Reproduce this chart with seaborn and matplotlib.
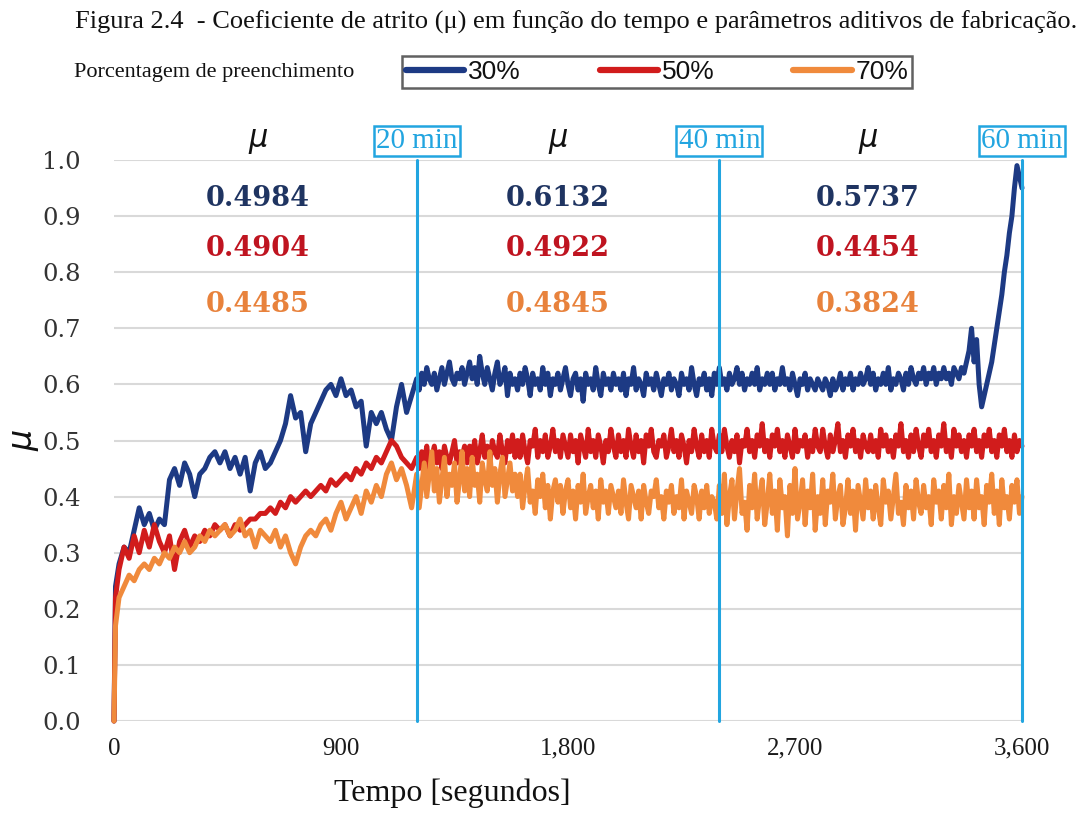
import numpy as np
import pandas as pd
import matplotlib
matplotlib.use("Agg")
import matplotlib.pyplot as plt
from matplotlib.lines import Line2D
import seaborn as sns

# ---- data -------------------------------------------------------------
# sampling instants [s]: 0, 6, every 20 s up to 1180 s, every 10 s afterwards
tempo = [0, 6] + list(range(20, 1200, 20)) + list(range(1200, 3601, 10))

mu_30 = [0.00, 0.24,
         0.28, 0.31, 0.30, 0.34, 0.38, 0.35, 0.37, 0.34, 0.36, 0.35,
         0.43, 0.45, 0.42, 0.46, 0.44, 0.40, 0.44, 0.45, 0.47, 0.48,
         0.46, 0.48, 0.45, 0.47, 0.44, 0.47, 0.41, 0.46, 0.48, 0.45,
         0.46, 0.48, 0.50, 0.53, 0.58, 0.54, 0.55, 0.48, 0.53, 0.55,
         0.57, 0.59, 0.60, 0.58, 0.61, 0.58, 0.59, 0.56, 0.57, 0.49,
         0.55, 0.53, 0.55, 0.52, 0.50, 0.56, 0.60, 0.55, 0.58,
         # from 1200 s, every 10 s
         0.61, 0.59, 0.62, 0.60, 0.63, 0.61, 0.60, 0.62, 0.59, 0.61,
         0.63, 0.60, 0.62, 0.64, 0.61, 0.60, 0.62, 0.61, 0.63, 0.60,
         0.62, 0.64, 0.61, 0.63, 0.60, 0.65, 0.62, 0.60, 0.63, 0.61,
         0.59, 0.62, 0.64, 0.60, 0.61, 0.63, 0.58, 0.62, 0.60, 0.61,
         0.59, 0.62, 0.60, 0.63, 0.61, 0.58, 0.62, 0.60, 0.61, 0.59,
         0.63, 0.60, 0.62, 0.58, 0.61, 0.60, 0.62, 0.59, 0.61, 0.63,
         0.60, 0.58, 0.61, 0.62, 0.59, 0.61, 0.57, 0.62, 0.60, 0.61,
         0.59, 0.63, 0.60, 0.58, 0.62, 0.60, 0.61, 0.59, 0.62, 0.60,
         0.61, 0.59, 0.62, 0.58, 0.61, 0.60, 0.63, 0.59, 0.61, 0.60,
         0.58, 0.62, 0.60, 0.61, 0.59, 0.62, 0.60, 0.58, 0.61, 0.60,
         0.62, 0.59, 0.61, 0.60, 0.58, 0.62, 0.60, 0.61, 0.59, 0.63,
         0.60, 0.58, 0.61, 0.60, 0.62, 0.59, 0.61, 0.58, 0.62, 0.60,
         0.63, 0.60, 0.61, 0.59, 0.62, 0.60, 0.61, 0.63, 0.60, 0.62,
         0.59, 0.61, 0.60, 0.62, 0.60, 0.63, 0.59, 0.61, 0.60, 0.62,
         0.60, 0.62, 0.59, 0.61, 0.60, 0.63, 0.60, 0.61, 0.59, 0.62,
         0.60, 0.58, 0.61, 0.60, 0.62, 0.59, 0.61, 0.60, 0.59, 0.61,
         0.60, 0.59, 0.61, 0.60, 0.58, 0.61, 0.59, 0.60, 0.62, 0.59,
         0.61, 0.60, 0.62, 0.59, 0.61, 0.60, 0.62, 0.60, 0.61, 0.63,
         0.60, 0.62, 0.59, 0.61, 0.60, 0.62, 0.60, 0.63, 0.59, 0.61,
         0.60, 0.62, 0.61, 0.59, 0.62, 0.60, 0.63, 0.61, 0.60, 0.62,
         0.61, 0.63, 0.60, 0.62, 0.61, 0.63, 0.60, 0.62, 0.61, 0.63,
         0.61, 0.62, 0.60, 0.63, 0.62, 0.61, 0.63, 0.62, 0.64, 0.66,
         0.70, 0.64, 0.68, 0.60, 0.56, 0.58, 0.60, 0.62, 0.64, 0.67,
         0.70, 0.73, 0.76, 0.80, 0.83, 0.87, 0.90, 0.95, 0.99, 0.97,
         0.95]

mu_50 = [0.00, 0.22,
         0.27, 0.31, 0.29, 0.33, 0.30, 0.34, 0.31, 0.35, 0.32, 0.30,
         0.33, 0.27, 0.32, 0.34, 0.31, 0.33, 0.32, 0.34, 0.33, 0.35,
         0.34, 0.35, 0.33, 0.35, 0.34, 0.35, 0.36, 0.36, 0.37, 0.37,
         0.38, 0.37, 0.39, 0.38, 0.40, 0.39, 0.40, 0.41, 0.40, 0.41,
         0.42, 0.41, 0.43, 0.42, 0.43, 0.44, 0.43, 0.45, 0.44, 0.46,
         0.45, 0.47, 0.46, 0.48, 0.50, 0.49, 0.47, 0.46, 0.45,
         # from 1200 s, every 10 s
         0.47, 0.45, 0.48, 0.46, 0.49, 0.45, 0.47, 0.49, 0.46, 0.48,
         0.45, 0.49, 0.47, 0.46, 0.48, 0.50, 0.46, 0.48, 0.47, 0.49,
         0.46, 0.49, 0.47, 0.50, 0.46, 0.48, 0.51, 0.47, 0.49, 0.46,
         0.50, 0.48, 0.47, 0.51, 0.48, 0.46, 0.50, 0.48, 0.51, 0.47,
         0.50, 0.47, 0.51, 0.48, 0.46, 0.50, 0.49, 0.52, 0.47, 0.50,
         0.48, 0.51, 0.47, 0.49, 0.52, 0.48, 0.50, 0.47, 0.51, 0.49,
         0.47, 0.51, 0.48, 0.50, 0.46, 0.51, 0.49, 0.47, 0.52, 0.48,
         0.50, 0.47, 0.51, 0.49, 0.46, 0.50, 0.48, 0.52, 0.49, 0.47,
         0.51, 0.48, 0.50, 0.47, 0.52, 0.49, 0.47, 0.51, 0.48, 0.50,
         0.46, 0.51, 0.49, 0.52, 0.48, 0.47, 0.50, 0.49, 0.51, 0.47,
         0.49, 0.52, 0.48, 0.50, 0.47, 0.51, 0.49, 0.46, 0.50, 0.48,
         0.52, 0.49, 0.47, 0.51, 0.48, 0.50, 0.47, 0.52, 0.49, 0.48,
         0.51, 0.48, 0.52, 0.49, 0.47, 0.50, 0.48, 0.51, 0.46, 0.50,
         0.49, 0.52, 0.48, 0.50, 0.47, 0.51, 0.49, 0.53, 0.48, 0.50,
         0.47, 0.51, 0.49, 0.52, 0.48, 0.50, 0.47, 0.51, 0.49, 0.47,
         0.52, 0.48, 0.50, 0.49, 0.51, 0.47, 0.50, 0.48, 0.52, 0.49,
         0.48, 0.52, 0.49, 0.47, 0.51, 0.48, 0.50, 0.53, 0.48, 0.50,
         0.47, 0.51, 0.49, 0.52, 0.48, 0.50, 0.47, 0.51, 0.49, 0.48,
         0.51, 0.48, 0.50, 0.47, 0.52, 0.49, 0.51, 0.48, 0.50, 0.47,
         0.51, 0.49, 0.53, 0.48, 0.50, 0.47, 0.51, 0.48, 0.52, 0.49,
         0.47, 0.51, 0.49, 0.52, 0.48, 0.50, 0.47, 0.51, 0.49, 0.53,
         0.48, 0.50, 0.47, 0.52, 0.49, 0.51, 0.48, 0.50, 0.47, 0.51,
         0.49, 0.52, 0.48, 0.50, 0.47, 0.51, 0.49, 0.52, 0.48, 0.50,
         0.47, 0.51, 0.49, 0.52, 0.48, 0.50, 0.47, 0.51, 0.48, 0.50,
         0.49]

mu_70 = [0.00, 0.17,
         0.22, 0.24, 0.26, 0.25, 0.27, 0.28, 0.27, 0.29, 0.28, 0.30,
         0.29, 0.31, 0.30, 0.32, 0.30, 0.31, 0.33, 0.32, 0.34, 0.33,
         0.34, 0.35, 0.33, 0.34, 0.36, 0.33, 0.34, 0.31, 0.34, 0.33,
         0.32, 0.34, 0.31, 0.33, 0.30, 0.28, 0.31, 0.33, 0.34, 0.33,
         0.35, 0.36, 0.34, 0.37, 0.39, 0.36, 0.38, 0.40, 0.37, 0.41,
         0.39, 0.42, 0.40, 0.44, 0.46, 0.43, 0.45, 0.42, 0.38,
         # from 1200 s, every 10 s
         0.44, 0.38, 0.42, 0.46, 0.40, 0.44, 0.48, 0.41, 0.45, 0.39,
         0.43, 0.47, 0.40, 0.44, 0.42, 0.46, 0.39, 0.43, 0.48, 0.41,
         0.45, 0.40, 0.47, 0.42, 0.44, 0.39, 0.46, 0.43, 0.41, 0.48,
         0.42, 0.45, 0.39, 0.44, 0.47, 0.40, 0.43, 0.46, 0.41, 0.44,
         0.40, 0.44, 0.38, 0.42, 0.45, 0.39, 0.41, 0.37, 0.43, 0.40,
         0.44, 0.38, 0.42, 0.36, 0.41, 0.43, 0.39, 0.42, 0.37, 0.41,
         0.43, 0.38, 0.41, 0.36, 0.42, 0.39, 0.44, 0.37, 0.40, 0.42,
         0.38, 0.41, 0.36, 0.43, 0.39, 0.41, 0.37, 0.42, 0.40, 0.38,
         0.41, 0.37, 0.43, 0.39, 0.36, 0.42, 0.40, 0.38, 0.41, 0.36,
         0.42, 0.39, 0.37, 0.41, 0.40, 0.43, 0.38, 0.40, 0.36, 0.41,
         0.39, 0.42, 0.37, 0.40, 0.38, 0.43, 0.36, 0.41, 0.39, 0.37,
         0.42, 0.40, 0.36, 0.41, 0.38, 0.42, 0.37, 0.40, 0.39, 0.36,
         0.42, 0.37, 0.44, 0.35, 0.40, 0.43, 0.36, 0.41, 0.45, 0.37,
         0.39, 0.34, 0.42, 0.38, 0.44, 0.36, 0.40, 0.43, 0.35, 0.39,
         0.44, 0.37, 0.41, 0.34, 0.43, 0.38, 0.40, 0.33, 0.42, 0.37,
         0.45, 0.36, 0.39, 0.43, 0.35, 0.41, 0.38, 0.44, 0.34, 0.40,
         0.37, 0.43, 0.35, 0.41, 0.39, 0.44, 0.36, 0.40, 0.42, 0.35,
         0.38, 0.43, 0.37, 0.41, 0.34, 0.42, 0.39, 0.36, 0.43, 0.38,
         0.41, 0.36, 0.42, 0.38, 0.35, 0.43, 0.39, 0.41, 0.36, 0.40,
         0.44, 0.37, 0.39, 0.35, 0.42, 0.38, 0.41, 0.36, 0.43, 0.39,
         0.37, 0.42, 0.38, 0.40, 0.35, 0.43, 0.39, 0.41, 0.36, 0.42,
         0.38, 0.44, 0.35, 0.40, 0.37, 0.42, 0.39, 0.36, 0.43, 0.38,
         0.41, 0.36, 0.43, 0.38, 0.40, 0.35, 0.42, 0.39, 0.44, 0.37,
         0.41, 0.35, 0.43, 0.38, 0.40, 0.36, 0.42, 0.39, 0.43, 0.37,
         0.40]

series_labels = ["30%", "50%", "70%"]

# mean friction coefficient per interval (0-20, 20-40, 40-60 min)
mean_mu_30 = [0.4984, 0.6132, 0.5737]
mean_mu_50 = [0.4904, 0.4922, 0.4454]
mean_mu_70 = [0.4485, 0.4845, 0.3824]

marker_minutes = [20, 40, 60]

x_ticks = [0, 900, 1800, 2700, 3600]
x_ticklabels = ["0", "900", "1,800", "2,700", "3,600"]
y_ticks = [0.0, 0.1, 0.2, 0.3, 0.4, 0.5, 0.6, 0.7, 0.8, 0.9, 1.0]

# ---- styling ----------------------------------------------------------
line_colors = ["#1d3a84", "#d11c1c", "#f08a3c"]
text_colors = ["#1f3461", "#bf1420", "#e8823c"]
cyan = "#22a5e0"

sns.set_theme(style="white")
plt.rcParams["font.family"] = ["DejaVu Sans"]

W, H = 1085, 814
fig = plt.figure(figsize=(W / 100, H / 100), dpi=100)
ax = fig.add_axes([114 / W, (H - 721) / H, (1022 - 114) / W, (721 - 160) / H])

n = len(tempo)
df = pd.DataFrame({
    "tempo": tempo * 3,
    "mu": mu_30 + mu_50 + mu_70,
    "preenchimento": [series_labels[0]] * n + [series_labels[1]] * n
    + [series_labels[2]] * n,
})

sns.lineplot(data=df, x="tempo", y="mu", hue="preenchimento",
             hue_order=series_labels,
             palette=dict(zip(series_labels, line_colors)),
             estimator=None, sort=False, linewidth=3.6, ax=ax, legend=False)
for ln in ax.lines:
    ln.set_clip_on(False)

ax.set_xlim(0, 3600)
ax.set_ylim(0, 1.0)
ax.set_yticks(y_ticks)
ax.set_yticklabels([f"{v:.1f}" for v in y_ticks])
ax.set_xticks(x_ticks)
ax.set_xticklabels(x_ticklabels)
ax.yaxis.grid(True, color="#d9d9d9", linewidth=1.5)
ax.xaxis.grid(False)
ax.set_axisbelow(True)
for s in ax.spines.values():
    s.set_visible(False)
ax.tick_params(axis="y", length=0, pad=24, labelsize=17.5, labelcolor="#333333")
ax.tick_params(axis="x", length=0, pad=12, labelsize=18, labelcolor="#1a1a1a")
for lab in ax.get_yticklabels():
    lab.set_fontfamily("DejaVu Serif")
for lab in ax.get_xticklabels():
    lab.set_fontfamily("Liberation Serif")

ax.set_xlabel("")
ax.set_ylabel("μ", fontsize=24, style="italic", fontfamily="DejaVu Sans",
              color="#111111", labelpad=2)

# vertical time markers with boxed labels
for m in marker_minutes:
    ax.axvline(m * 60, ymin=0, ymax=1.0, color=cyan, linewidth=2.2, zorder=5,
               clip_on=False)
    ax.text(m * 60, 1.034, f"{m} min", ha="center", va="center",
            fontsize=21, fontfamily="Liberation Serif", color=cyan,
            bbox=dict(boxstyle="square,pad=0.08", facecolor="white",
                      edgecolor=cyan, linewidth=1.8), zorder=6, clip_on=False)

# interval means
col_x = [571, 1760, 2990]
row_y = [0.932, 0.843, 0.742]
means = [mean_mu_30, mean_mu_50, mean_mu_70]
for j, cx in enumerate(col_x):
    ax.text(cx, 1.036, "μ", ha="center", va="center", fontsize=22,
            style="italic", fontfamily="DejaVu Sans", color="#111111",
            clip_on=False)
    for i, vals in enumerate(means):
        ax.text(cx, row_y[i], f"{vals[j]:.4f}", ha="center", va="center",
                fontsize=19.5, fontweight="bold", fontfamily="DejaVu Serif",
                color=text_colors[i])

# titles and legend
fig.text(576 / W, 1 - 22 / H,
         "Figura 2.4  - Coeficiente de atrito (μ) em função do tempo e "
         "parâmetros aditivos de fabricação.",
         ha="center", va="center", fontsize=19, fontfamily="Liberation Serif",
         color="#111111")
fig.text(214 / W, 1 - 72 / H, "Porcentagem de preenchimento",
         ha="center", va="center", fontsize=16, fontfamily="Liberation Serif",
         color="#111111")
fig.text(452 / W, 1 - 793 / H, "Tempo [segundos]", ha="center", va="center",
         fontsize=23, fontfamily="Liberation Serif", color="#111111")

handles = [Line2D([0], [0], color=c, linewidth=4.5) for c in line_colors]
leg = fig.legend(handles, series_labels, loc="center",
                 bbox_to_anchor=(657 / W, 1 - 72 / H), ncol=3, frameon=True,
                 fancybox=False, edgecolor="#3a3a3a", handlelength=2.2,
                 handletextpad=0.15, columnspacing=3.0, borderpad=0.15,
                 prop={"family": ["Liberation Sans Narrow", "Liberation Sans"],
                       "size": 19})
leg.get_frame().set_linewidth(1.8)
for t in leg.get_texts():
    t.set_color("#111111")

fig.savefig("out.png", dpi=100, facecolor="white")
